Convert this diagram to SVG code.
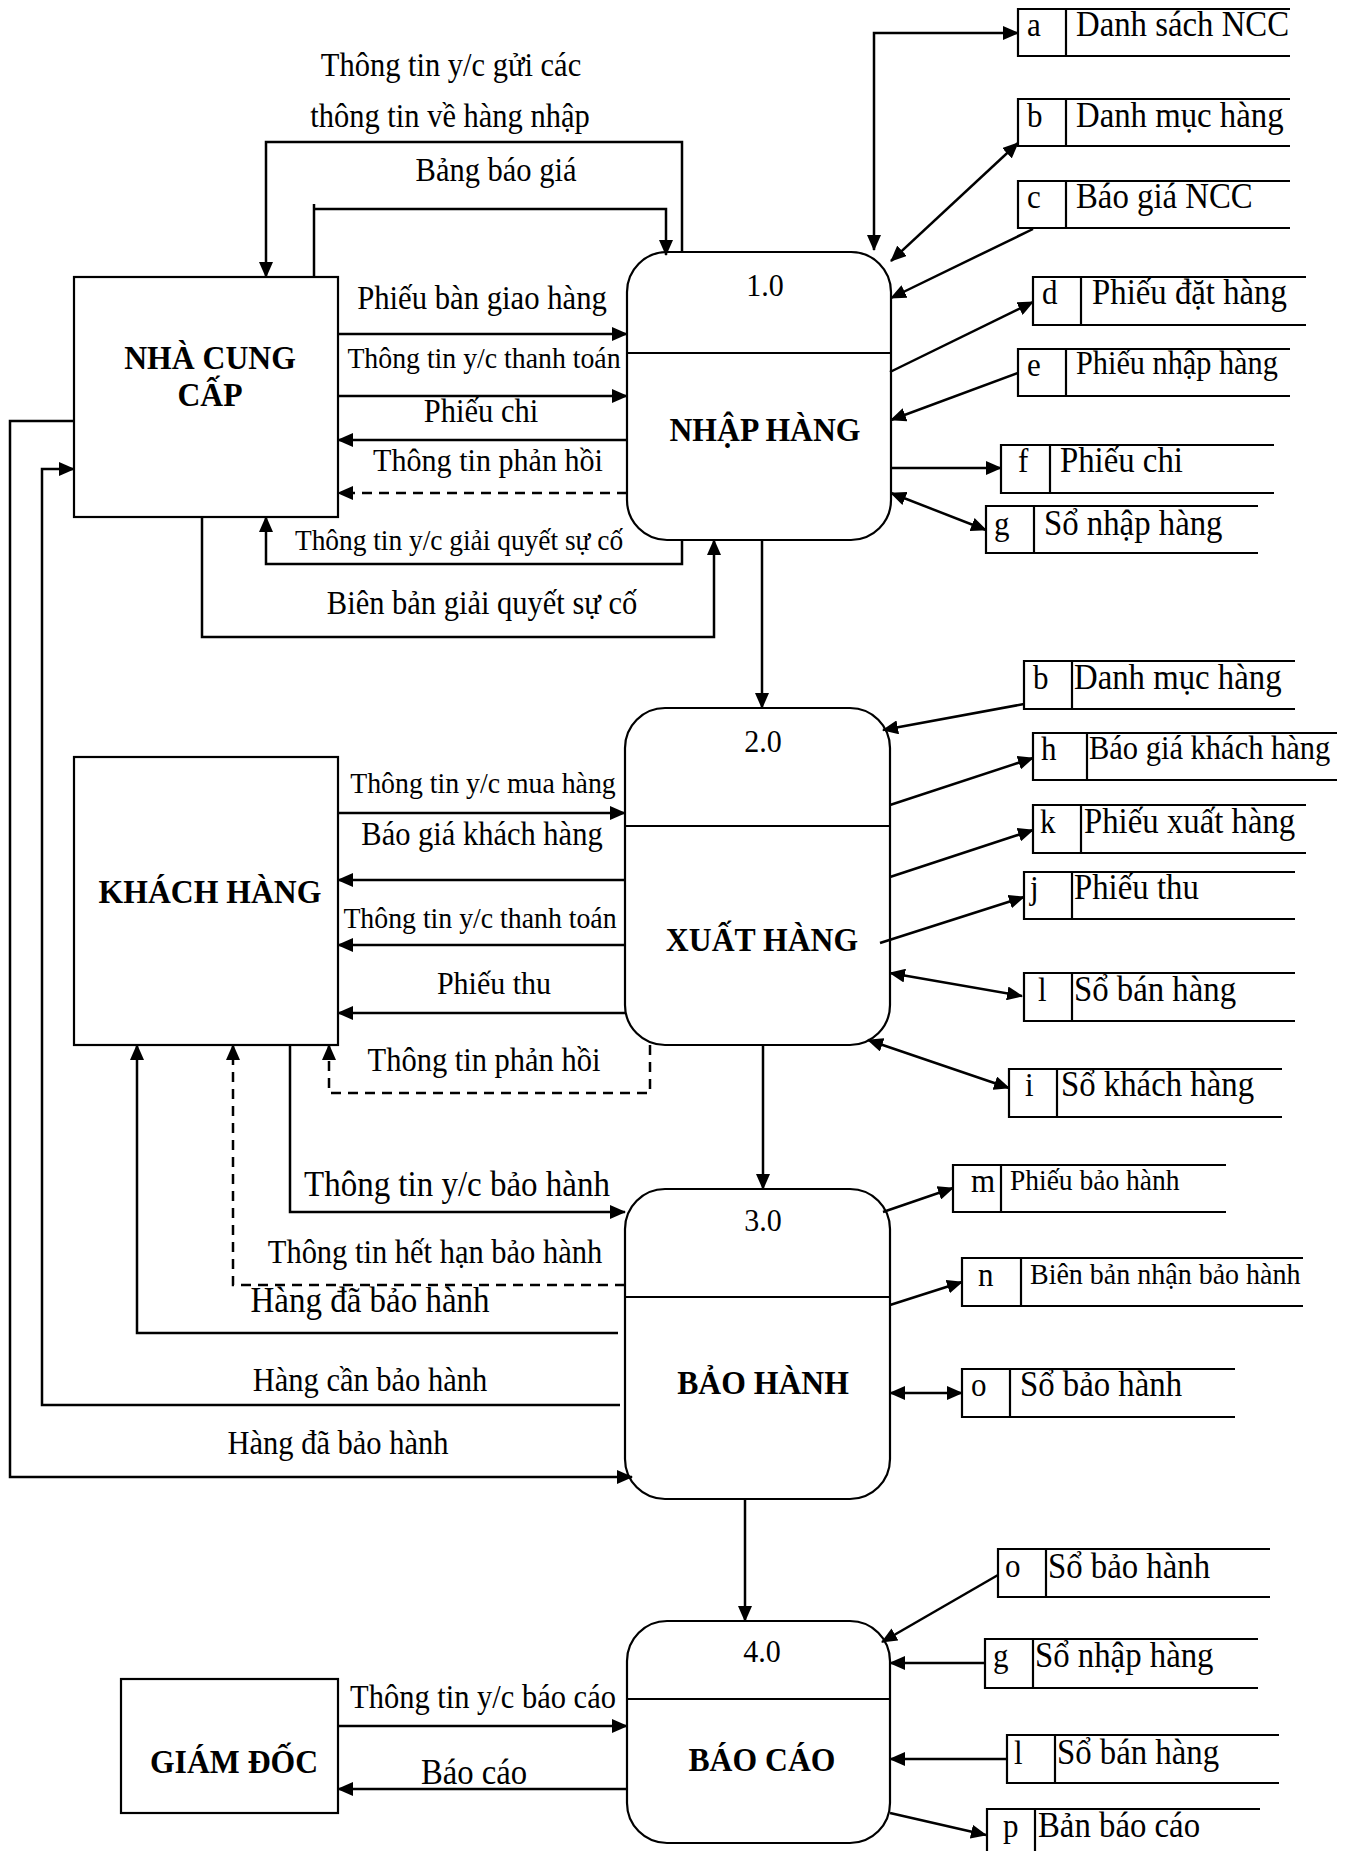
<svg xmlns="http://www.w3.org/2000/svg" width="1351" height="1851" viewBox="0 0 1351 1851">
<defs>
<style>
text{font-family:"Liberation Serif","Times New Roman",serif;fill:#000;transform-box:fill-box;transform-origin:50% 100%;transform:scaleY(1.08)}
.lb{font-size:30.5px;text-anchor:middle}
.ls{font-size:27.8px;text-anchor:middle}
.lg{font-size:33px;text-anchor:middle}
.bold{font-size:31.7px;font-weight:bold;text-anchor:middle}
.num{font-size:30px;text-anchor:middle}
.st{font-size:32.8px}
.sts{font-size:28px}
.ltr{font-size:31px}
.box{fill:#fff;stroke:#000;stroke-width:2.2}
.proc{fill:#fff;stroke:#000;stroke-width:2.2}
.ds{fill:none;stroke:#000;stroke-width:2.2}
.ln{fill:none;stroke:#000;stroke-width:2.5}
.arr{marker-end:url(#ah)}
.both{marker-start:url(#ah);marker-end:url(#ah)}
.dash{stroke-dasharray:10 7}
</style>
<marker id="ah" viewBox="0 0 16 14" refX="15" refY="7" markerWidth="16" markerHeight="14" markerUnits="userSpaceOnUse" orient="auto-start-reverse">
<path d="M0,0 L16,7 L0,14 z" fill="#000"/>
</marker>
</defs>
<rect width="1351" height="1851" fill="#fff"/>

<!-- external entities -->
<g id="ncc">
<rect class="box" x="74" y="277" width="264" height="240"/>
<text class="bold" x="210" y="370">NHÀ CUNG</text>
<text class="bold" x="210" y="407">CẤP</text>
</g>
<g id="khach-hang">
<rect class="box" x="74" y="757" width="264" height="288"/>
<text class="bold" x="210" y="904">KHÁCH HÀNG</text>
</g>
<g id="giam-doc">
<rect class="box" x="121" y="1679" width="217" height="134"/>
<text class="bold" x="234" y="1774">GIÁM ĐỐC</text>
</g>

<!-- processes -->
<g id="p1">
<rect class="proc" x="627" y="252" width="264" height="288" rx="40" ry="40"/>
<line class="ds" x1="627" y1="353" x2="891" y2="353"/>
<text class="num" x="765" y="297">1.0</text>
<text class="bold" x="765" y="442">NHẬP HÀNG</text>
</g>
<g id="p2">
<rect class="proc" x="625" y="708" width="265" height="337" rx="40" ry="40"/>
<line class="ds" x1="625" y1="826" x2="890" y2="826"/>
<text class="num" x="763" y="753">2.0</text>
<text class="bold" x="762" y="952">XUẤT HÀNG</text>
</g>
<g id="p3">
<rect class="proc" x="625" y="1189" width="265" height="310" rx="40" ry="40"/>
<line class="ds" x1="625" y1="1297" x2="890" y2="1297"/>
<text class="num" x="763" y="1232">3.0</text>
<text class="bold" x="763" y="1395">BẢO HÀNH</text>
</g>
<g id="p4">
<rect class="proc" x="627" y="1621" width="263" height="222" rx="40" ry="40"/>
<line class="ds" x1="627" y1="1699" x2="890" y2="1699"/>
<text class="num" x="762" y="1663">4.0</text>
<text class="bold" x="762" y="1772">BÁO CÁO</text>
</g>

<!-- data stores -->
<g id="store-a"><path class="ds" d="M1290,9 H1018 V56 H1290 M1066,9 V56"/><text class="ltr" x="1027" y="37">a</text><text class="st" x="1076" y="37">Danh sách NCC</text></g>
<g id="store-b"><path class="ds" d="M1290,99 H1018 V146 H1290 M1066,99 V146"/><text class="ltr" x="1027" y="128">b</text><text class="st" x="1076" y="128">Danh mục hàng</text></g>
<g id="store-c"><path class="ds" d="M1290,181 H1018 V228 H1290 M1066,181 V228"/><text class="ltr" x="1027" y="209">c</text><text class="st" x="1076" y="209">Báo giá NCC</text></g>
<g id="store-d"><path class="ds" d="M1306,277 H1033 V325 H1306 M1081,277 V325"/><text class="ltr" x="1042" y="305">d</text><text class="st" x="1092" y="305">Phiếu đặt hàng</text></g>
<g id="store-e"><path class="ds" d="M1290,349 H1018 V396 H1290 M1066,349 V396"/><text class="ltr" x="1027" y="377">e</text><text class="sts" style="font-size:30.3px" x="1076" y="375">Phiếu nhập hàng</text></g>
<g id="store-f"><path class="ds" d="M1274,445 H1001 V493 H1274 M1050,445 V493"/><text class="ltr" x="1018" y="473">f</text><text class="st" x="1060" y="473">Phiếu chi</text></g>
<g id="store-g"><path class="ds" d="M1258,506 H986 V553 H1258 M1034,506 V553"/><text class="ltr" x="994" y="536">g</text><text class="st" x="1044" y="536">Sổ nhập hàng</text></g>

<g id="store-b2"><path class="ds" d="M1295,661 H1024 V709 H1295 M1072,661 V709"/><text class="ltr" x="1033" y="690">b</text><text class="st" x="1074" y="690">Danh mục hàng</text></g>
<g id="store-h"><path class="ds" d="M1337,733 H1033 V780 H1337 M1087,733 V780"/><text class="ltr" x="1041" y="761">h</text><text class="sts" style="font-size:30.5px" x="1089" y="760">Báo giá khách hàng</text></g>
<g id="store-k"><path class="ds" d="M1306,805 H1033 V853 H1306 M1081,805 V853"/><text class="ltr" x="1040" y="834">k</text><text class="st" x="1084" y="834">Phiếu xuất hàng</text></g>
<g id="store-j"><path class="ds" d="M1295,872 H1024 V919 H1295 M1072,872 V919"/><text class="ltr" x="1030" y="900">j</text><text class="st" x="1074" y="900">Phiếu thu</text></g>
<g id="store-l"><path class="ds" d="M1295,973 H1024 V1021 H1295 M1072,973 V1021"/><text class="ltr" x="1038" y="1002">l</text><text class="st" x="1074" y="1002">Sổ bán hàng</text></g>
<g id="store-i"><path class="ds" d="M1282,1069 H1009 V1117 H1282 M1057,1069 V1117"/><text class="ltr" x="1025" y="1097">i</text><text class="st" x="1061" y="1097">Sổ khách hàng</text></g>

<g id="store-m"><path class="ds" d="M1226,1165 H953 V1212 H1226 M1001,1165 V1212"/><text class="ltr" x="971" y="1193">m</text><text class="sts" style="font-size:27.5px" x="1010" y="1190">Phiếu bảo hành</text></g>
<g id="store-n"><path class="ds" d="M1303,1258 H962 V1306 H1303 M1021,1258 V1306"/><text class="ltr" x="978" y="1287">n</text><text class="sts" x="1030" y="1284">Biên bản nhận bảo hành</text></g>
<g id="store-o"><path class="ds" d="M1235,1369 H962 V1417 H1235 M1010,1369 V1417"/><text class="ltr" x="971" y="1397">o</text><text class="st" x="1020" y="1397">Sổ bảo hành</text></g>

<g id="store-o2"><path class="ds" d="M1270,1549 H998 V1597 H1270 M1046,1549 V1597"/><text class="ltr" x="1005" y="1578">o</text><text class="st" x="1048" y="1579">Sổ bảo hành</text></g>
<g id="store-g2"><path class="ds" d="M1258,1639 H985 V1688 H1258 M1033,1639 V1688"/><text class="ltr" x="993" y="1668">g</text><text class="st" x="1035" y="1668">Sổ nhập hàng</text></g>
<g id="store-l2"><path class="ds" d="M1279,1735 H1007 V1783 H1279 M1055,1735 V1783"/><text class="ltr" x="1014" y="1765">l</text><text class="st" x="1057" y="1765">Sổ bán hàng</text></g>
<g id="store-p"><path class="ds" d="M1260,1809 H987 V1860 M1035,1809 V1860"/><text class="ltr" x="1003" y="1838">p</text><text class="st" x="1038" y="1838">Bản báo cáo</text></g>

<!-- data flows -->
<g id="connectors">
<!-- NCC <-> 1.0 -->
<path class="ln arr" d="M682,252 V142 H266 V277"/>
<path class="ln" d="M314,277 V204"/>
<path class="ln arr" d="M314,209 H666 V255"/>
<path class="ln arr" d="M338,334 H627"/>
<path class="ln arr" d="M338,396 H627"/>
<path class="ln arr" d="M627,440 H338"/>
<path class="ln arr dash" d="M627,493 H338"/>
<path class="ln arr" d="M682,540 V564 H266 V517"/>
<path class="ln arr" d="M202,517 V637 H714 V540"/>

<!-- 1.0 <-> stores -->
<path class="ln both" d="M874,250 V33 H1018"/>
<path class="ln both" d="M891,261 L1018,143"/>
<path class="ln arr" d="M1033,229 L891,298"/>
<path class="ln arr" d="M890,372 L1033,302"/>
<path class="ln arr" d="M1018,373 L891,420"/>
<path class="ln arr" d="M890,468 H1001"/>
<path class="ln both" d="M891,493 L986,530"/>

<!-- process chain -->
<path class="ln arr" d="M762,540 V708"/>
<path class="ln arr" d="M763,1045 V1189"/>
<path class="ln arr" d="M745,1499 V1621"/>

<!-- KH <-> 2.0 -->
<path class="ln arr" d="M338,813 H625"/>
<path class="ln arr" d="M625,880 H338"/>
<path class="ln arr" d="M625,945 H338"/>
<path class="ln arr" d="M625,1013 H338"/>
<path class="ln arr dash" d="M650,1045 V1093 H329 V1045"/>

<!-- 2.0 <-> stores -->
<path class="ln arr" d="M1024,704 L883,730"/>
<path class="ln arr" d="M890,805 L1033,758"/>
<path class="ln arr" d="M890,877 L1033,830"/>
<path class="ln arr" d="M880,943 L1024,897"/>
<path class="ln both" d="M890,973 L1022,996"/>
<path class="ln both" d="M868,1040 L1009,1088"/>

<!-- KH / NCC <-> 3.0 -->
<path class="ln arr" d="M290,1045 V1212 H625"/>
<path class="ln arr dash" d="M625,1285 H233 V1045"/>
<path class="ln arr" d="M618,1333 H137 V1045"/>
<path class="ln arr" d="M620,1405 H42 V469 H74"/>
<path class="ln arr" d="M74,421 H10 V1477 H632"/>

<!-- 3.0 <-> stores -->
<path class="ln arr" d="M883,1212 L953,1188"/>
<path class="ln arr" d="M890,1305 L962,1282"/>
<path class="ln both" d="M890,1393 H962"/>

<!-- GD <-> 4.0 -->
<path class="ln arr" d="M338,1726 H627"/>
<path class="ln arr" d="M627,1789 H338"/>

<!-- 4.0 <-> stores -->
<path class="ln arr" d="M998,1575 L882,1642"/>
<path class="ln arr" d="M985,1663 H890"/>
<path class="ln arr" d="M1007,1759 H890"/>
<path class="ln arr" d="M890,1813 L986,1835"/>

<!-- flow labels -->
<text class="lb" x="451" y="77">Thông tin y/c gửi các</text>
<text class="lb" x="450" y="128">thông tin về hàng nhập</text>
<text class="lb" x="496" y="182">Bảng báo giá</text>
<text class="lb" style="font-size:30.7px" x="482" y="310">Phiếu bàn giao hàng</text>
<text class="ls" x="484" y="368">Thông tin y/c thanh toán</text>
<text class="lb" x="481" y="423">Phiếu chi</text>
<text class="lb" style="font-size:30.1px" x="488" y="472">Thông tin phản hồi</text>
<text class="ls" style="font-size:27.4px" x="459" y="550">Thông tin y/c giải quyết sự cố</text>
<text class="lb" x="482" y="615">Biên bản giải quyết sự cố</text>

<text class="ls" x="483" y="793">Thông tin y/c mua hàng</text>
<text class="lb" x="482" y="846">Báo giá khách hàng</text>
<text class="ls" x="480" y="928">Thông tin y/c thanh toán</text>
<text class="lb" style="font-size:30px" x="494" y="995">Phiếu thu</text>
<text class="lb" x="484" y="1072">Thông tin phản hồi</text>

<text class="lg" x="457" y="1197">Thông tin y/c bảo hành</text>
<text class="lb" x="435" y="1264">Thông tin hết hạn bảo hành</text>
<text class="lg" x="370" y="1313">Hàng đã bảo hành</text>
<text class="lb" x="370" y="1392">Hàng cần bảo hành</text>
<text class="lb" x="338" y="1455">Hàng đã bảo hành</text>

<text class="lb" x="483" y="1709">Thông tin y/c báo cáo</text>
<text class="lg" style="font-size:32.7px" x="474" y="1785">Báo cáo</text>
</g>
</svg>
